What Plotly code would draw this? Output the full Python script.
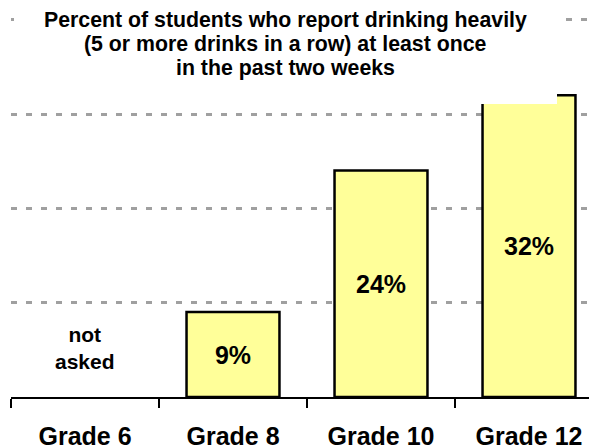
import plotly.graph_objects as go

categories = ["Grade 6", "Grade 8", "Grade 10", "Grade 12"]
values = [None, 9, 24, 32]
bar_labels = ["", "9%", "24%", "32%"]
missing_label = "not<br>asked"
title_lines = [
    "Percent of students who report drinking heavily",
    "(5 or more drinks in a row) at least once",
    "in the past two weeks",
]
y_ticks = [0, 10, 20, 30, 40]

FONT = "Liberation Sans, Arial, sans-serif"

# The page places the plot div at an 8px body margin; compensate for it.
OFF = 8
Y_MAX = 40.6  # above 40 so the 40% gridline is drawn inside the plot area
PX_PER_UNIT = 377 / 40.0
W, H = 597 - OFF, 448 - OFF
B = 448 - 397
L, R = 11 - OFF, 0
T = int(round(H - B - Y_MAX * PX_PER_UNIT))
pw = W - L - R
ph = H - T - B
cat_px = 148.0

fig = go.Figure()
fig.add_trace(go.Bar(
    x=categories,
    y=values,
    text=bar_labels,
    textposition="inside",
    insidetextanchor="middle",
    textangle=0,
    textfont=dict(family=FONT, size=25, color="black", weight="bold"),
    marker=dict(color="#FFFF99", line=dict(color="black", width=2.5)),
    hoverinfo="skip",
))

fig.update_layout(
    template="none",
    width=W, height=H,
    margin=dict(l=L, r=R, t=T, b=B, pad=0, autoexpand=False),
    paper_bgcolor="white", plot_bgcolor="white",
    showlegend=False,
    bargap=0.372,
    xaxis=dict(
        type="category",
        automargin=False,
        range=[-0.5, -0.5 + pw / cat_px],
        showline=True, linecolor="black", linewidth=2,
        ticks="outside", ticklen=9, tickwidth=2, tickcolor="black",
        tickson="boundaries",
        showgrid=False,
        tickfont=dict(family=FONT, size=25, color="black", weight="bold"),
        ticklabelstandoff=16,
        fixedrange=True,
    ),
    yaxis=dict(
        automargin=False,
        range=[0, Y_MAX],
        tickvals=y_ticks,
        showticklabels=False,
        showgrid=True, gridcolor="#A0A0A0", gridwidth=2.5, griddash="6px,9px",
        zeroline=False, showline=False, ticks="",
        fixedrange=True,
    ),
)

# page pixel -> paper coordinate helpers
def px_x(x):
    return (x - OFF - L) / pw

def px_y(y):
    return (H - B - (y - OFF)) / ph

# white box behind title (covers gridline and bar top, as in reference)
fig.add_shape(type="rect", xref="paper", yref="paper",
              x0=px_x(14), x1=px_x(557), y0=px_y(104), y1=px_y(-5),
              fillcolor="white", line=dict(width=0), layer="above")

for i, line in enumerate(title_lines):
    fig.add_annotation(
        text=line, xref="paper", yref="paper",
        x=px_x(285), y=px_y(20 + 24 * i),
        xanchor="center", yanchor="middle", showarrow=False,
        font=dict(family=FONT, size=21.3, color="black", weight="bold"),
    )

fig.add_annotation(
    text=missing_label, x=categories[0], y=5.2,
    xanchor="center", yanchor="middle", showarrow=False,
    font=dict(family=FONT, size=21, color="black", weight="bold"),
)

fig.write_html("out.html")
